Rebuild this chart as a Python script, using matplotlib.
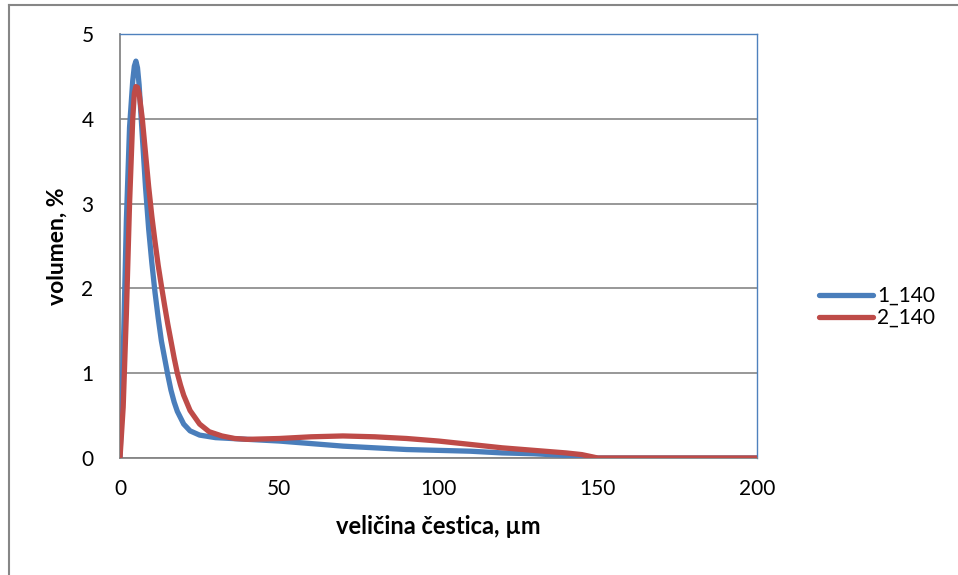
import matplotlib.pyplot as plt
from matplotlib.lines import Line2D

# particle size (um) and volume (%)
x_1 = [0, 1, 2, 3, 4, 4.5, 5, 5.5, 6, 7, 8, 9, 10, 11, 12, 13, 14, 15, 16, 17,
       18, 20, 22, 25, 30, 40, 50, 60, 70, 80, 90, 100, 110, 120, 130, 140,
       150, 160, 180, 200]
y_1 = [0, 1.2, 2.8, 3.9, 4.45, 4.62, 4.68, 4.6, 4.4, 3.8, 3.2, 2.7, 2.3, 1.95,
       1.65, 1.38, 1.18, 0.98, 0.8, 0.66, 0.55, 0.4, 0.32, 0.27, 0.24, 0.22,
       0.2, 0.17, 0.14, 0.12, 0.1, 0.09, 0.08, 0.06, 0.05, 0.03, 0.0, 0.0,
       0.0, 0.0]

x_2 = [0, 1, 2, 3, 4, 4.5, 5, 5.5, 6, 7, 8, 9, 10, 11, 12, 13, 14, 15, 16, 17,
       18, 19, 20, 22, 25, 28, 32, 36, 40, 50, 60, 70, 80, 90, 100, 110, 120,
       130, 140, 145, 150, 160, 180, 200]
y_2 = [0, 0.6, 1.7, 3.0, 4.0, 4.3, 4.38, 4.37, 4.3, 4.0, 3.6, 3.2, 2.85, 2.55,
       2.27, 2.03, 1.8, 1.58, 1.38, 1.18, 1.0, 0.86, 0.74, 0.56, 0.4, 0.31,
       0.26, 0.23, 0.22, 0.23, 0.25, 0.26, 0.25, 0.23, 0.2, 0.16, 0.12, 0.09,
       0.06, 0.04, 0.0, 0.0, 0.0, 0.0]

labels = ["1_140", "2_140"]
colors = ["#4a7ebb", "#be4b48"]

plt.rcParams["font.family"] = ["Lato", "DejaVu Sans"]

fig = plt.figure(figsize=(9.58, 5.75), dpi=100)
ax = fig.add_axes([120 / 958, 1 - 458 / 575, 637 / 958, 424 / 575])

ax.plot(x_1, y_1, color=colors[0], lw=3.8, solid_joinstyle="round",
        solid_capstyle="round", zorder=3)
ax.plot(x_2, y_2, color=colors[1], lw=3.8, solid_joinstyle="round",
        solid_capstyle="round", zorder=4)

ax.set_xlim(0, 200)
ax.set_ylim(0, 5)
ax.set_xticks([0, 50, 100, 150, 200])
ax.set_yticks([0, 1, 2, 3, 4, 5])
ax.grid(axis="y", color="#868686", lw=1.2)
ax.set_axisbelow(True)
ax.tick_params(length=0, labelsize=15)
ax.tick_params(axis="x", pad=15)
ax.tick_params(axis="y", pad=19)

for s in ["left", "bottom"]:
    ax.spines[s].set_color("#868686")
    ax.spines[s].set_linewidth(1.3)
for s in ["top", "right"]:
    ax.spines[s].set_color("#4f81bd")
    ax.spines[s].set_linewidth(1.0)

ax.set_xlabel("veličina čestica, µm", fontsize=17, fontweight="bold", labelpad=12)
ax.set_ylabel("volumen, %", fontsize=16.5, fontweight="bold", labelpad=10)

handles = [Line2D([], [], color=c, lw=3.8, solid_capstyle="round") for c in colors]
fig.legend(handles, labels, loc="center left", bbox_to_anchor=(800 / 958, 1 - 307 / 575),
           frameon=False, fontsize=15, handlelength=2.6, handletextpad=0.2,
           labelspacing=0.1)

# chart frame (cropped: only top and left edges visible)
fig.add_artist(Line2D([9 / 958, 1], [1 - 5 / 575, 1 - 5 / 575], color="#868686", lw=1.5))
fig.add_artist(Line2D([9 / 958, 9 / 958], [0, 1 - 5 / 575], color="#868686", lw=1.5))

fig.savefig("out.png", dpi=100, facecolor="white")
